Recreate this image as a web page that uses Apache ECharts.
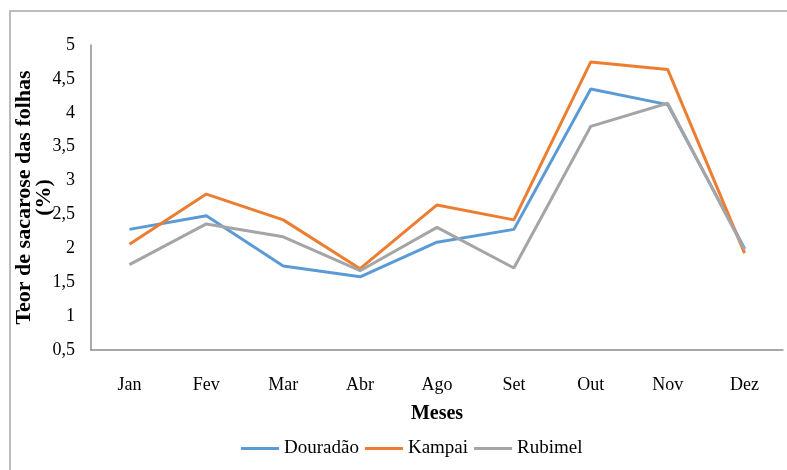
<!DOCTYPE html>
<html>
<head>
<meta charset="utf-8">
<script src="https://cdn.jsdelivr.net/npm/echarts@6/dist/echarts.min.js"></script>
<style>
  html, body { margin: 0; padding: 0; background: #fff; }
  #main { width: 787px; height: 470px; }
</style>
</head>
<body>
<div id="main"></div>
<script>
const meses = ['Jan', 'Fev', 'Mar', 'Abr', 'Ago', 'Set', 'Out', 'Nov', 'Dez'];
const dourado = [2.28, 2.48, 1.74, 1.58, 2.09, 2.28, 4.35, 4.12, 2.0];
const kampai = [2.06, 2.80, 2.42, 1.70, 2.64, 2.42, 4.75, 4.64, 1.93];
const rubimel = [1.76, 2.36, 2.17, 1.67, 2.31, 1.71, 3.80, 4.14, 1.98];
const nomes = ['Douradão', 'Kampai', 'Rubimel'];

const serif = 'Liberation Serif';
const fmt = v => String(v).replace('.', ',');

const chart = echarts.init(document.getElementById('main'));

const option = {
  animation: false,
  backgroundColor: '#fff',
  textStyle: { fontFamily: serif, color: '#000' },
  grid: { left: 91, right: 4, top: 45, bottom: 120, outerBoundsMode: 'none' },
  graphic: [{
    type: 'rect',
    shape: { x: 10, y: 11, width: 800, height: 480 },
    style: { fill: 'none', stroke: '#a6a6a6', lineWidth: 1.5 },
    silent: true
  }],
  legend: {
    left: 236,
    top: 434,
    itemWidth: 38,
    itemHeight: 3,
    itemGap: 6,
    icon: 'rect',
    textStyle: { fontFamily: serif, fontSize: 19, color: '#000' },
    data: nomes
  },
  xAxis: {
    type: 'category',
    data: meses,
    boundaryGap: true,
    axisLine: { lineStyle: { color: '#8c8c8c', width: 1.5 } },
    axisTick: { show: false },
    axisLabel: { fontFamily: serif, fontSize: 18, color: '#000', margin: 26 },
    name: 'Meses',
    nameLocation: 'middle',
    nameGap: 54,
    nameMoveOverlap: false,
    nameTextStyle: { fontFamily: serif, fontSize: 20, fontWeight: 'bold', color: '#000' }
  },
  yAxis: {
    type: 'value',
    min: 0.5,
    max: 5,
    interval: 0.5,
    splitLine: { show: false },
    axisLine: { show: true, lineStyle: { color: '#8c8c8c', width: 1.5 } },
    axisTick: { show: false },
    axisLabel: { fontFamily: serif, fontSize: 18, color: '#000', margin: 16, formatter: fmt },
    name: 'Teor de sacarose das folhas\n(%)',
    nameLocation: 'middle',
    nameRotate: 90,
    nameGap: 37,
    nameMoveOverlap: false,
    nameTextStyle: { fontFamily: serif, fontSize: 22, fontWeight: 'bold', color: '#000', lineHeight: 20 }
  },
  series: [
    { name: nomes[0], type: 'line', data: dourado, showSymbol: false, lineStyle: { width: 3, color: '#5b9bd5' }, itemStyle: { color: '#5b9bd5' } },
    { name: nomes[1], type: 'line', data: kampai, showSymbol: false, lineStyle: { width: 3, color: '#ed7d31' }, itemStyle: { color: '#ed7d31' } },
    { name: nomes[2], type: 'line', data: rubimel, showSymbol: false, lineStyle: { width: 3, color: '#a5a5a5' }, itemStyle: { color: '#a5a5a5' } }
  ]
};

chart.setOption(option);
</script>
</body>
</html>
